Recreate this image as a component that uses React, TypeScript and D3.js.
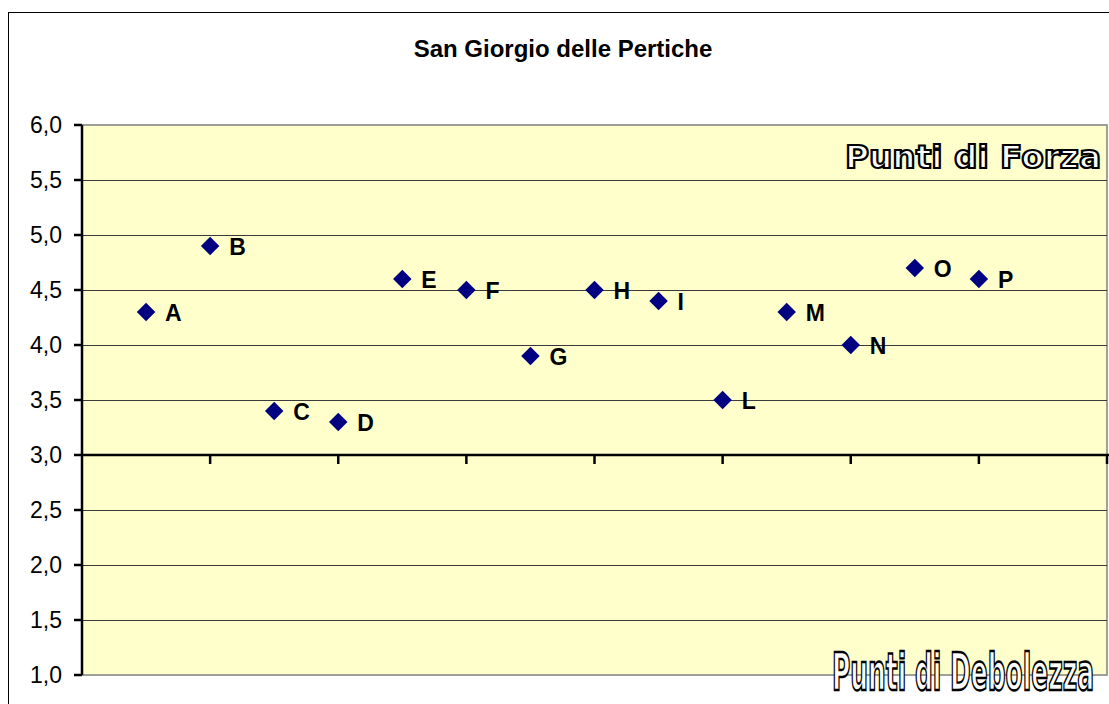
import React from 'react';
import * as d3 from 'd3';

// data
const labels = ['A', 'B', 'C', 'D', 'E', 'F', 'G', 'H', 'I', 'L', 'M', 'N', 'O', 'P'];
const positions = [1, 2, 3, 4, 5, 6, 7, 8, 9, 10, 11, 12, 13, 14];
const scores = [4.3, 4.9, 3.4, 3.3, 4.6, 4.5, 3.9, 4.5, 4.4, 3.5, 4.3, 4.0, 4.7, 4.6];
const yTicks = [1.0, 1.5, 2.0, 2.5, 3.0, 3.5, 4.0, 4.5, 5.0, 5.5, 6.0];
const xTicks = [2, 4, 6, 8, 10, 12, 14, 16];

const title = 'San Giorgio delle Pertiche';
const strongLabel = 'Punti di Forza';
const weakLabel = 'Punti di Debolezza';

const W = 1109;
const H = 704;
const plot = { left: 82, right: 1107, top: 125, bottom: 675 };
const font = '"Liberation Sans", Arial, sans-serif';
const narrow = '"DejaVu Sans", sans-serif';

const App = () => {
  const x = d3.scaleLinear().domain([0, 16]).range([plot.left, plot.right]);
  const y = d3.scaleLinear().domain([1, 6]).range([plot.bottom, plot.top]);
  const fmt = (v: number) => d3.format('.1f')(v).replace('.', ',');
  const diamond = d3.symbol().type(d3.symbolSquare).size(170)();

  return (
    <svg width={W} height={H} style={{ position: 'absolute', left: 0, top: 0, background: '#fff' }}>
      {/* chart border */}
      <rect x={8.5} y={12.5} width={W + 20} height={H + 20} fill="#fff" stroke="#000" strokeWidth={1} />

      <text x={563} y={57} textAnchor="middle" fontFamily={font} fontWeight="bold" fontSize={24}>
        {title}
      </text>

      {/* plot area */}
      <rect
        x={plot.left}
        y={plot.top}
        width={plot.right - plot.left}
        height={plot.bottom - plot.top}
        fill="#FFFFCC"
        stroke="#808080"
        strokeWidth={1.5}
      />

      {/* gridlines */}
      {yTicks.filter(t => t > 1 && t < 6 && t !== 3).map(t => (
        <line key={t} x1={plot.left} x2={plot.right} y1={Math.round(y(t)) + 0.5} y2={Math.round(y(t)) + 0.5} stroke="#3a3a3a" strokeWidth={1} />
      ))}

      {/* y axis */}
      <line x1={plot.left} x2={plot.left} y1={plot.top} y2={plot.bottom} stroke="#000" strokeWidth={2.5} />
      {yTicks.map(t => (
        <g key={t}>
          <line x1={plot.left - 8} x2={plot.left} y1={y(t)} y2={y(t)} stroke="#000" strokeWidth={2.5} />
          <text x={62} y={y(t) + 8} textAnchor="end" fontFamily={font} fontSize={23}>
            {fmt(t)}
          </text>
        </g>
      ))}

      {/* x axis crossing at 3,0 */}
      <line x1={plot.left} x2={plot.right + 2} y1={y(3)} y2={y(3)} stroke="#000" strokeWidth={2.5} />
      {xTicks.map(t => (
        <line key={t} x1={x(t)} x2={x(t)} y1={y(3)} y2={y(3) + 9} stroke="#000" strokeWidth={2.5} />
      ))}

      {/* points */}
      {positions.map((p, i) => (
        <g key={labels[i]}>
          <path d={diamond as string} transform={`translate(${x(p)},${y(scores[i])}) rotate(45)`} fill="#000080" />
          <text x={x(p) + 19} y={y(scores[i]) + 9} fontFamily={font} fontWeight="bold" fontSize={23}>
            {labels[i]}
          </text>
        </g>
      ))}

      {/* outlined captions */}
      <text
        x={845}
        y={168}
        fontFamily={narrow}
        fontWeight="bold"
        fontSize={32}
        textLength={256}
        lengthAdjust="spacingAndGlyphs"
        fill="#fff"
        stroke="#000"
        strokeWidth={2.2}
      >
        {strongLabel}
      </text>
      <text
        x={832}
        y={690}
        fontFamily={narrow}
        fontWeight="bold"
        fontSize={52}
        textLength={262}
        lengthAdjust="spacingAndGlyphs"
        fill="#fff"
        stroke="#000"
        strokeWidth={2.4}
      >
        {weakLabel}
      </text>
    </svg>
  );
};

export default App;
